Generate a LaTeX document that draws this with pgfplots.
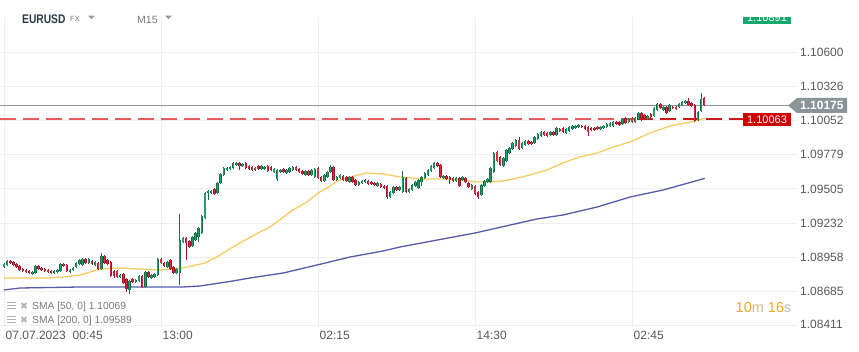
\documentclass[border=0pt]{standalone}
\usepackage{pgfplots}
\pgfplotsset{compat=1.18}
\usepackage{pgfplotstable}
\usepackage{graphicx}
\usepackage{fontspec}
\setmainfont{Liberation Sans}
\newfontfamily\dejavu{DejaVu Sans}
\definecolor{upo}{RGB}{16,112,72}
\definecolor{upi}{RGB}{36,158,106}
\definecolor{dno}{RGB}{160,18,38}
\definecolor{dni}{RGB}{222,42,66}
\definecolor{smaA}{RGB}{247,196,82}
\definecolor{smaB}{RGB}{84,90,172}
\definecolor{gridc}{RGB}{238,238,238}
\definecolor{lab}{RGB}{88,88,88}
\definecolor{lab2}{RGB}{120,120,120}
\definecolor{hdr}{RGB}{45,58,69}
\definecolor{tagg}{RGB}{138,148,152}
\definecolor{tagr}{RGB}{208,0,0}
\definecolor{tagu}{RGB}{20,168,110}
\definecolor{cur}{RGB}{140,150,153}
\definecolor{orng}{RGB}{245,166,35}
\definecolor{mcol}{RGB}{214,186,146}
\definecolor{scol}{RGB}{190,190,190}
\definecolor{lineredA}{RGB}{228,92,92}
\definecolor{lineredB}{RGB}{204,24,24}

\pgfplotstableread{
i o h l c
0 1.08880 1.08912 1.08872 1.08904
1 1.08896 1.08936 1.08888 1.08928
9 1.08824 1.08848 1.08816 1.08840
10 1.08832 1.08896 1.08824 1.08888
16 1.08832 1.08856 1.08824 1.08848
17 1.08840 1.08864 1.08832 1.08856
18 1.08848 1.08912 1.08840 1.08904
21 1.08840 1.08864 1.08832 1.08856
22 1.08856 1.08880 1.08848 1.08872
23 1.08880 1.08920 1.08872 1.08912
24 1.08904 1.08944 1.08896 1.08936
25 1.08896 1.08952 1.08888 1.08944
27 1.08912 1.08952 1.08904 1.08944
29 1.08896 1.08928 1.08888 1.08920
31 1.08864 1.08992 1.08856 1.08968
37 1.08800 1.08824 1.08792 1.08816
40 1.08696 1.08776 1.08664 1.08768
42 1.08760 1.08784 1.08752 1.08776
43 1.08768 1.08816 1.08760 1.08808
45 1.08720 1.08848 1.08712 1.08840
47 1.08792 1.08824 1.08784 1.08816
48 1.08800 1.08832 1.08792 1.08824
49 1.08816 1.08952 1.08808 1.08944
52 1.08880 1.08928 1.08872 1.08920
55 1.08832 1.08872 1.08824 1.08864
56 1.08832 1.09304 1.08736 1.09096
57 1.09080 1.09120 1.09072 1.09112
60 1.09048 1.09128 1.09040 1.09120
61 1.09096 1.09160 1.09088 1.09152
62 1.09120 1.09200 1.09080 1.09192
63 1.09152 1.09296 1.09144 1.09288
64 1.09272 1.09480 1.09264 1.09472
65 1.09472 1.09496 1.09416 1.09488
66 1.09472 1.09496 1.09464 1.09488
68 1.09472 1.09560 1.09464 1.09552
69 1.09552 1.09632 1.09544 1.09624
70 1.09616 1.09680 1.09608 1.09672
71 1.09656 1.09680 1.09648 1.09672
72 1.09664 1.09688 1.09656 1.09680
73 1.09672 1.09720 1.09664 1.09712
74 1.09696 1.09720 1.09688 1.09712
76 1.09688 1.09712 1.09680 1.09704
80 1.09656 1.09680 1.09648 1.09672
82 1.09664 1.09696 1.09656 1.09688
83 1.09664 1.09688 1.09656 1.09680
86 1.09640 1.09672 1.09632 1.09664
87 1.09584 1.09664 1.09568 1.09656
88 1.09640 1.09664 1.09632 1.09656
90 1.09632 1.09664 1.09624 1.09656
91 1.09640 1.09680 1.09632 1.09672
92 1.09656 1.09688 1.09648 1.09680
96 1.09616 1.09656 1.09608 1.09648
98 1.09616 1.09664 1.09608 1.09656
99 1.09600 1.09672 1.09592 1.09664
102 1.09568 1.09624 1.09560 1.09616
103 1.09600 1.09648 1.09592 1.09640
104 1.09640 1.09696 1.09632 1.09680
106 1.09576 1.09608 1.09568 1.09600
107 1.09592 1.09624 1.09584 1.09616
110 1.09560 1.09608 1.09552 1.09600
113 1.09536 1.09568 1.09528 1.09560
114 1.09552 1.09576 1.09544 1.09568
115 1.09560 1.09584 1.09552 1.09576
119 1.09528 1.09560 1.09520 1.09552
123 1.09440 1.09488 1.09432 1.09480
124 1.09472 1.09528 1.09464 1.09520
126 1.09496 1.09528 1.09488 1.09520
127 1.09480 1.09648 1.09472 1.09600
129 1.09480 1.09512 1.09472 1.09504
130 1.09496 1.09544 1.09488 1.09536
131 1.09528 1.09568 1.09520 1.09560
132 1.09512 1.09584 1.09504 1.09576
133 1.09560 1.09608 1.09528 1.09600
134 1.09592 1.09640 1.09584 1.09632
135 1.09616 1.09664 1.09608 1.09656
136 1.09648 1.09696 1.09640 1.09688
137 1.09672 1.09720 1.09664 1.09712
140 1.09592 1.09616 1.09584 1.09608
144 1.09568 1.09600 1.09560 1.09592
146 1.09576 1.09608 1.09568 1.09600
149 1.09504 1.09544 1.09496 1.09536
152 1.09456 1.09544 1.09448 1.09536
153 1.09528 1.09576 1.09520 1.09568
154 1.09560 1.09592 1.09552 1.09584
155 1.09560 1.09680 1.09552 1.09672
156 1.09640 1.09800 1.09632 1.09792
159 1.09688 1.09760 1.09680 1.09752
160 1.09728 1.09824 1.09720 1.09816
161 1.09792 1.09840 1.09784 1.09832
162 1.09824 1.09880 1.09816 1.09872
163 1.09848 1.09904 1.09840 1.09896
165 1.09832 1.09880 1.09824 1.09872
166 1.09856 1.09896 1.09848 1.09888
169 1.09872 1.09928 1.09864 1.09920
170 1.09904 1.09952 1.09896 1.09944
171 1.09928 1.09968 1.09920 1.09960
174 1.09936 1.09968 1.09928 1.09960
176 1.09936 1.10000 1.09928 1.09992
179 1.09952 1.09992 1.09944 1.09984
180 1.09968 1.10008 1.09960 1.10000
181 1.09984 1.10016 1.09976 1.10008
182 1.09992 1.10016 1.09984 1.10008
183 1.10000 1.10024 1.09992 1.10016
190 1.09984 1.10008 1.09976 1.10000
191 1.09992 1.10016 1.09984 1.10008
192 1.10000 1.10032 1.09992 1.10024
193 1.10008 1.10040 1.10000 1.10032
194 1.10008 1.10048 1.10000 1.10040
197 1.10024 1.10072 1.10016 1.10064
199 1.10040 1.10072 1.10032 1.10064
201 1.10040 1.10080 1.10032 1.10072
202 1.10064 1.10120 1.10056 1.10112
205 1.10064 1.10096 1.10056 1.10088
207 1.10088 1.10160 1.10080 1.10152
208 1.10136 1.10192 1.10128 1.10184
210 1.10136 1.10168 1.10128 1.10160
212 1.10128 1.10184 1.10120 1.10176
215 1.10160 1.10192 1.10152 1.10184
216 1.10176 1.10208 1.10168 1.10200
217 1.10192 1.10216 1.10184 1.10208
221 1.10056 1.10128 1.10048 1.10120
222 1.10128 1.10272 1.10120 1.10224
}\uptab

\pgfplotstableread{
i o h l c
2 1.08928 1.08936 1.08904 1.08912
3 1.08920 1.08928 1.08888 1.08896
4 1.08904 1.08912 1.08872 1.08880
5 1.08888 1.08896 1.08848 1.08856
6 1.08864 1.08872 1.08840 1.08848
7 1.08856 1.08864 1.08832 1.08840
8 1.08848 1.08856 1.08824 1.08832
11 1.08888 1.08896 1.08856 1.08864
12 1.08872 1.08880 1.08848 1.08856
13 1.08864 1.08872 1.08840 1.08848
14 1.08856 1.08864 1.08832 1.08840
15 1.08848 1.08856 1.08824 1.08832
19 1.08904 1.08912 1.08880 1.08888
20 1.08896 1.08904 1.08840 1.08848
26 1.08944 1.08952 1.08904 1.08912
28 1.08928 1.08936 1.08896 1.08904
30 1.08912 1.08920 1.08856 1.08864
32 1.08968 1.08976 1.08904 1.08912
33 1.08936 1.08944 1.08896 1.08904
34 1.08920 1.08928 1.08800 1.08808
35 1.08848 1.08856 1.08792 1.08808
36 1.08848 1.08856 1.08792 1.08800
38 1.08824 1.08832 1.08744 1.08752
39 1.08784 1.08792 1.08680 1.08704
41 1.08784 1.08792 1.08752 1.08760
44 1.08808 1.08816 1.08712 1.08720
46 1.08840 1.08848 1.08792 1.08800
50 1.08944 1.08952 1.08904 1.08912
51 1.08912 1.08920 1.08880 1.08888
53 1.08936 1.08944 1.08856 1.08864
54 1.08880 1.08888 1.08824 1.08832
58 1.09112 1.09120 1.08936 1.09072
59 1.09088 1.09096 1.09032 1.09040
67 1.09504 1.09512 1.09456 1.09464
75 1.09712 1.09720 1.09656 1.09688
77 1.09712 1.09720 1.09664 1.09672
78 1.09688 1.09696 1.09656 1.09664
79 1.09680 1.09688 1.09648 1.09656
81 1.09688 1.09696 1.09656 1.09664
84 1.09688 1.09696 1.09640 1.09648
85 1.09680 1.09688 1.09648 1.09656
89 1.09664 1.09672 1.09632 1.09640
93 1.09680 1.09688 1.09648 1.09656
94 1.09664 1.09672 1.09632 1.09640
95 1.09648 1.09656 1.09616 1.09624
97 1.09648 1.09656 1.09608 1.09616
100 1.09672 1.09680 1.09584 1.09592
101 1.09600 1.09608 1.09560 1.09568
105 1.09680 1.09688 1.09568 1.09576
108 1.09608 1.09616 1.09568 1.09576
109 1.09600 1.09608 1.09560 1.09568
111 1.09600 1.09608 1.09552 1.09560
112 1.09576 1.09584 1.09528 1.09536
116 1.09568 1.09576 1.09536 1.09544
117 1.09560 1.09568 1.09536 1.09544
118 1.09552 1.09560 1.09528 1.09536
120 1.09544 1.09552 1.09512 1.09520
121 1.09528 1.09536 1.09504 1.09512
122 1.09528 1.09536 1.09424 1.09440
125 1.09520 1.09528 1.09488 1.09496
128 1.09592 1.09600 1.09472 1.09480
138 1.09712 1.09720 1.09680 1.09688
139 1.09696 1.09704 1.09592 1.09600
141 1.09608 1.09616 1.09576 1.09584
142 1.09600 1.09608 1.09544 1.09576
143 1.09592 1.09600 1.09560 1.09568
145 1.09592 1.09600 1.09520 1.09528
147 1.09592 1.09600 1.09552 1.09560
148 1.09552 1.09560 1.09512 1.09520
150 1.09528 1.09536 1.09456 1.09464
151 1.09480 1.09488 1.09424 1.09440
157 1.09800 1.09808 1.09720 1.09728
158 1.09760 1.09768 1.09688 1.09696
164 1.09896 1.09920 1.09816 1.09824
167 1.09888 1.09896 1.09856 1.09864
168 1.09880 1.09888 1.09856 1.09864
172 1.09960 1.09968 1.09928 1.09936
173 1.09952 1.09960 1.09920 1.09928
175 1.09960 1.09968 1.09928 1.09936
177 1.09984 1.09992 1.09960 1.09968
178 1.09992 1.10000 1.09952 1.09960
184 1.10008 1.10016 1.09992 1.10000
185 1.10008 1.10016 1.09976 1.09984
186 1.10000 1.10008 1.09928 1.09960
187 1.09992 1.10000 1.09968 1.09976
188 1.09992 1.10000 1.09968 1.09976
189 1.10000 1.10008 1.09976 1.09984
195 1.10040 1.10048 1.10016 1.10024
196 1.10040 1.10048 1.10008 1.10016
198 1.10072 1.10080 1.10024 1.10032
200 1.10072 1.10080 1.10032 1.10040
203 1.10112 1.10120 1.10048 1.10072
204 1.10096 1.10104 1.10064 1.10072
206 1.10104 1.10112 1.10072 1.10080
209 1.10184 1.10192 1.10144 1.10152
211 1.10160 1.10168 1.10104 1.10112
213 1.10160 1.10168 1.10144 1.10152
214 1.10160 1.10168 1.10136 1.10144
218 1.10208 1.10232 1.10168 1.10176
219 1.10192 1.10200 1.10160 1.10168
220 1.10176 1.10184 1.10040 1.10048
223 1.10232 1.10240 1.10168 1.10175
}\dntab

\pgfplotstableread{
i p
0 1.08792
14.0 1.08792
19.4 1.08800
24.2 1.08816
30.6 1.08864
36.9 1.08872
43.3 1.08864
49.7 1.08856
57.0 1.08872
64.0 1.08912
67.8 1.08960
72.9 1.09040
77.4 1.09104
81.5 1.09160
84.7 1.09200
92.0 1.09336
96.5 1.09400
100.0 1.09472
102.9 1.09512
106.1 1.09568
110.2 1.09600
115.6 1.09632
120.7 1.09624
126.1 1.09600
133.4 1.09584
141.1 1.09584
146.2 1.09576
150.6 1.09560
154.8 1.09560
158.9 1.09568
162.1 1.09584
167.5 1.09616
172.9 1.09656
178.0 1.09712
183.4 1.09760
188.9 1.09792
194.0 1.09840
199.4 1.09880
205.7 1.09952
212.1 1.10008
218.5 1.10040
223.2 1.10069
}\smaAtab

\pgfplotstableread{
i p
0 1.08696
5.1 1.08712
24.2 1.08720
57.0 1.08720
62.4 1.08728
72.9 1.08768
78.3 1.08792
88.9 1.08832
99.7 1.08896
110.2 1.08960
120.7 1.09008
126.1 1.09040
150.0 1.09152
169.7 1.09264
178.0 1.09296
188.9 1.09360
199.4 1.09440
209.9 1.09496
223.2 1.09589
}\smaBtab

\pgfplotstableread{
i p
-1.274 1.10063
201.0 1.10063
}\lineA

\pgfplotstableread{
i p
201.5 1.10063
235.35 1.10063
}\lineB

\begin{document}
\begin{tikzpicture}
\useasboundingbox (0,0) rectangle (859pt,-352pt);
\begin{axis}[
  at={(0pt,-17pt)}, anchor=north west,
  scale only axis, width=797pt, height=310pt,
  xmin=-1.274, xmax=252.55, ymin=1.08400, ymax=1.10880,
  axis line style={draw=none},
  major tick length=0pt,
  xtick={0,50,100,150,200},
  xticklabels={07.07.2023\hspace{7pt}00:45,13:00,02:15,14:30,02:45},
  ytick={1.08411,1.08685,1.08958,1.09232,1.09505,1.09779,1.10052,1.10326,1.10600},
  yticklabels={\raisebox{3.5pt}{1.08411},1.08685,1.08958,1.09232,1.09505,1.09779,1.10052,1.10326,1.10600},
  yticklabel pos=right,
  xmajorgrids, ymajorgrids,
  grid style={draw=gridc, line width=0.9pt},
  ticklabel style={font=\fontsize{12}{14}\selectfont, text=lab, inner sep=0pt},
  xticklabel style={anchor=base west, yshift=-12.5pt, xshift=1.5pt},
  yticklabel style={anchor=west, xshift=3pt},
  clip=true,
]
\addplot[smaB, line width=1.3pt, mark=none] table[x=i, y=p] {\smaBtab};
\addplot[smaA, line width=1.3pt, opacity=0.9, mark=none] table[x=i, y=p] {\smaAtab};
\addplot[draw=cur, line width=1pt, mark=none] coordinates {(-1.274,1.10175) (250.3,1.10175)};
\addplot[draw=lineredA, line width=1.3pt, mark=none, dash pattern={on 16pt off 7pt}] table[x=i, y=p] {\lineA};
\addplot[draw=lineredB, line width=1.3pt, mark=none, dash pattern={on 16pt off 7pt}] table[x=i, y=p] {\lineB};
% wicks
\addplot[mark=none, color=upo, line width=0.8pt, quiver={u=0, v=\thisrow{h}-\thisrow{l}}]
  table[x=i, y=l] {\uptab};
\addplot[mark=none, color=dno, line width=0.8pt, quiver={u=0, v=\thisrow{h}-\thisrow{l}}]
  table[x=i, y=l] {\dntab};
% bodies outer
\addplot[mark=none, color=upo, line width=2.5pt, quiver={u=0, v=\thisrow{c}-\thisrow{o}}]
  table[x=i, y=o] {\uptab};
\addplot[mark=none, color=dno, line width=2.5pt, quiver={u=0, v=\thisrow{o}-\thisrow{c}}]
  table[x=i, y=c] {\dntab};
% bodies inner
\addplot[mark=none, color=upi, line width=1.1pt, quiver={u=0, v=\thisrow{c}-\thisrow{o}}]
  table[x=i, y=o] {\uptab};
\addplot[mark=none, color=dni, line width=1.1pt, quiver={u=0, v=\thisrow{o}-\thisrow{c}}]
  table[x=i, y=c] {\dntab};
\end{axis}
% green tag at top, cut by the top edge of the plot area
\fill[tagu] (743pt,-11pt) rectangle (791pt,-24.5pt);
\node[text=white, inner sep=0pt] at (767pt,-17.5pt) {\fontsize{11}{13}\selectfont 1.10891};
\fill[white] (700pt,0pt) rectangle (859pt,-17pt);
% header
\node[anchor=base west, inner sep=0pt, text=hdr] at (22pt,-23.5pt) {\scalebox{0.82}[1]{\fontsize{12.5}{14}\selectfont\bfseries EURUSD}};
\node[anchor=base west, inner sep=0pt, text=lab2] at (70pt,-21.7pt) {\fontsize{7.5}{9}\selectfont FX};
\fill[black!40] (88pt,-15.7pt) -- (95pt,-15.7pt) -- (91.5pt,-19.2pt) -- cycle;
\node[anchor=base west, inner sep=0pt, text=lab2] at (137pt,-23.3pt) {\fontsize{10.5}{12}\selectfont M15};
\fill[black!40] (165pt,-15.7pt) -- (172pt,-15.7pt) -- (168.5pt,-19.2pt) -- cycle;
% legend
\foreach \yy/\txt in {302/{SMA [50, 0] 1.10069}, 316/{SMA [200, 0] 1.09589}}{
  \fill[black!30] (7pt,-\yy pt) rectangle (16pt,-\yy pt-1.5pt);
  \fill[black!30] (7pt,-\yy pt-3pt) rectangle (16pt,-\yy pt-4.5pt);
  \fill[black!30] (7pt,-\yy pt-6pt) rectangle (16pt,-\yy pt-7.5pt);
  \node[anchor=base west, inner sep=0pt, text=black!30] at (20pt,-\yy pt-7.5pt) {\dejavu\fontsize{9.5}{11}\selectfont ✖};
  \node[anchor=base west, inner sep=0pt, text=lab2] at (32pt,-\yy pt-7.5pt) {\fontsize{10.3}{12}\selectfont \txt};
}
% timer
\node[anchor=base west, inner sep=0pt] at (735.5pt,-312.5pt) {\fontsize{14.5}{16}\selectfont\textcolor{orng}{10}\textcolor{mcol}{m} \textcolor{orng}{16}\textcolor{scol}{s}};
% tags
\fill[tagg] (788pt,-105.5pt) -- (797pt,-98pt) -- (847pt,-98pt) -- (847pt,-113pt) -- (797pt,-113pt) -- cycle;
\node[anchor=west, inner sep=0pt, text=white] at (800pt,-105.5pt) {\fontsize{12}{14}\selectfont\bfseries 1.10175};
\fill[tagr] (743pt,-113.5pt) rectangle (791pt,-126pt);
\node[text=white, inner sep=0pt] at (767pt,-119.8pt) {\fontsize{11}{13}\selectfont 1.10063};
\end{tikzpicture}
\end{document}
